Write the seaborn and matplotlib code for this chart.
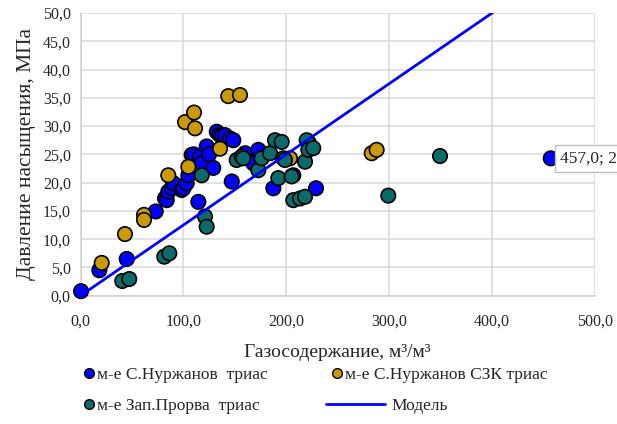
import numpy as np
import pandas as pd
import matplotlib
matplotlib.use("Agg")
import matplotlib.pyplot as plt
import seaborn as sns
from matplotlib.lines import Line2D

# --- data: gas content (m3/m3) vs saturation pressure (MPa) ---
nurzhanov_gas = [0.5, 18.3, 44.9, 73.1, 82.1, 83.8, 85.3, 88.6, 90.2, 98.3, 100.0,
                 103.2, 104.8, 108.0, 110.0, 114.5, 116.1, 118.0, 122.6, 125.0,
                 129.0, 132.4, 135.0, 137.2, 140.4, 145.3, 148.5, 147.0, 160.0,
                 168.0, 172.8, 187.4, 206.8, 222.0, 228.9, 457.0]
nurzhanov_p = [0.8, 4.5, 6.5, 14.9, 17.2, 16.9, 18.4, 19.0, 19.9, 18.7, 19.0,
               19.9, 21.3, 24.9, 25.0, 16.6, 24.6, 23.5, 26.4, 25.0,
               22.6, 29.0, 28.5, 28.4, 28.4, 27.8, 27.5, 20.2, 25.2,
               23.4, 25.8, 19.0, 21.3, 27.0, 19.0, 24.3]

szk_gas = [20.6, 43.2, 61.7, 61.7, 85.3, 104.8, 101.6, 110.3, 111.3, 135.6,
           143.6, 155.0, 203.6, 283.0, 287.8]
szk_p = [5.8, 10.9, 14.3, 13.4, 21.3, 22.8, 30.7, 32.4, 29.6, 26.0,
         35.3, 35.5, 24.3, 25.2, 25.8]

prorva_gas = [40.6, 47.4, 81.4, 86.3, 117.8, 121.0, 122.6, 151.8, 156.6, 158.2,
              172.8, 176.0, 184.2, 189.0, 195.5, 192.2, 197.1, 198.7, 205.2,
              206.8, 213.3, 218.2, 218.2, 219.8, 221.4, 226.2, 299.1, 349.4]
prorva_p = [2.6, 2.95, 6.9, 7.5, 21.3, 14.0, 12.2, 24.0, 24.6, 24.3,
            22.2, 24.3, 25.2, 27.5, 27.2, 20.8, 24.3, 24.0, 21.1,
            16.9, 17.2, 17.5, 23.7, 27.5, 25.8, 26.1, 17.7, 24.7]

model_gas = [0.0, 500.0]
model_slope = 0.125
model_p = [model_slope * g for g in model_gas]

series_names = ["м-е С.Нуржанов  триас", "м-е С.Нуржанов СЗК триас",
                "м-е Зап.Прорва  триас"]
series_colors = ["#0000ff", "#c99a06", "#0b6a6a"]
model_name = "Модель"

x_ticks = [0, 100, 200, 300, 400, 500]
y_ticks = [0, 5, 10, 15, 20, 25, 30, 35, 40, 45, 50]

# --- styling ---
sns.set_theme(style="white")
plt.rcParams["font.family"] = ["Liberation Serif", "DejaVu Serif"]
plt.rcParams["text.color"] = "#262626"

df = pd.concat([
    pd.DataFrame({"gas": nurzhanov_gas, "p": nurzhanov_p, "field": series_names[0]}),
    pd.DataFrame({"gas": szk_gas, "p": szk_p, "field": series_names[1]}),
    pd.DataFrame({"gas": prorva_gas, "p": prorva_p, "field": series_names[2]}),
], ignore_index=True)

fig = plt.figure(figsize=(6.17, 4.24), dpi=100)
ax = fig.add_axes([0.1305, 0.3026, 0.8338, 0.6667])

sns.scatterplot(data=df, x="gas", y="p", hue="field", hue_order=series_names,
                palette=series_colors, s=108, edgecolor="black", linewidth=1.2,
                legend=False, ax=ax, zorder=3)
ax.collections[-1].set_clip_on(False)

sns.lineplot(x=model_gas, y=model_p, color="#0000ff", linewidth=2.0, ax=ax,
             zorder=4)

ax.set_xlim(0, 500)
ax.set_ylim(0, 50)
ax.set_xticks(x_ticks)
ax.set_yticks(y_ticks)
ax.set_xticklabels([f"{v:.1f}".replace(".", ",") for v in x_ticks])
ax.set_yticklabels([f"{v:.1f}".replace(".", ",") for v in y_ticks])
ax.tick_params(axis="both", length=0, labelsize=11.5, colors="#262626")
ax.tick_params(axis="x", pad=13)
ax.tick_params(axis="y", pad=7)

ax.grid(True, color="#d9d9d9", linewidth=1.1)
ax.set_axisbelow(True)
for side in ["top", "right"]:
    ax.spines[side].set_visible(False)
for side in ["left", "bottom"]:
    ax.spines[side].set_color("#d0d0d0")
    ax.spines[side].set_linewidth(1.1)

ax.set_xlabel("Газосодержание, м³/м³", fontsize=14, labelpad=10)
ax.set_ylabel("Давление насыщения, МПа", fontsize=15.5, labelpad=5)

# data label on the far outlier
lx, ly = nurzhanov_gas[-1], nurzhanov_p[-1]
ax.annotate(f"{lx:.1f}; {ly:.1f}".replace(".", ","), xy=(lx, ly),
            xytext=(6.6, 0), textcoords="offset points", ha="left", va="center",
            fontsize=12.5, annotation_clip=False, zorder=6,
            bbox=dict(boxstyle="square,pad=0.3", fc="white", ec="#bfbfbf", lw=1))


# legend entries placed individually
def mk(color):
    return Line2D([], [], linestyle="none", marker="o", markersize=7,
                  markerfacecolor=color, markeredgecolor="black",
                  markeredgewidth=1.0)


leg_kw = dict(loc="center left", frameon=False, fontsize=12.5, borderpad=0,
              borderaxespad=0)
entries = [
    (mk(series_colors[0]), series_names[0], (0.136, 0.1156), 0.6, 0.15),
    (mk(series_colors[1]), series_names[1], (0.538, 0.1156), 0.6, 0.15),
    (mk(series_colors[2]), series_names[2], (0.136, 0.0425), 0.6, 0.15),
    (Line2D([], [], color="#0000ff", linewidth=2.0), model_name,
     (0.528, 0.0425), 3.4, 0.4),
]
for handle, label, anchor, hl, tp in entries:
    leg = fig.legend([handle], [label], bbox_to_anchor=anchor,
                     handlelength=hl, handletextpad=tp, **leg_kw)

fig.savefig("out.png", dpi=100)
